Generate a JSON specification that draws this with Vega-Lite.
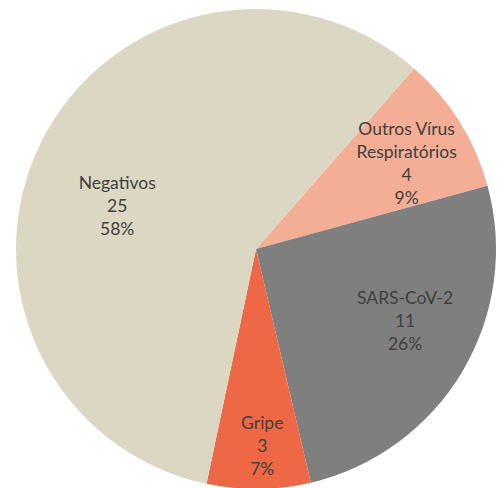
{
  "$schema": "https://vega.github.io/schema/vega-lite/v6.json",
  "width": 482,
  "height": 478,
  "padding": {"left": 15, "top": 10, "right": 0, "bottom": 0},
  "autosize": {"type": "none"},
  "background": "white",
  "view": {"stroke": null},
  "data": {
    "values": [
      {"cat": "Outros Vírus Respiratórios", "n": 4, "ord": 1},
      {"cat": "SARS-CoV-2", "n": 11, "ord": 2},
      {"cat": "Gripe", "n": 3, "ord": 3},
      {"cat": "Negativos", "n": 25, "ord": 4}
    ]
  },
  "transform": [
    {"joinaggregate": [{"op": "sum", "field": "n", "as": "total"}]},
    {"calculate": "datum.cat === 'Outros Vírus Respiratórios' ? ['Outros Vírus', 'Respiratórios', '' + datum.n, format(datum.n / datum.total, '.0%')] : [datum.cat, '' + datum.n, format(datum.n / datum.total, '.0%')]", "as": "label"}
  ],
  "encoding": {
    "theta": {"field": "n", "type": "quantitative", "stack": true, "scale": {"range": [0.7191, 7.0023]}},
    "order": {"field": "ord", "type": "quantitative"}
  },
  "layer": [
    {
      "mark": {"type": "arc", "radius": 240, "stroke": null},
      "encoding": {
        "color": {
          "field": "cat",
          "type": "nominal",
          "legend": null,
          "scale": {
            "domain": ["Outros Vírus Respiratórios", "SARS-CoV-2", "Gripe", "Negativos"],
            "range": ["#F5AE96", "#7F7F7F", "#EF6845", "#DCD7C3"]
          }
        }
      }
    },
    {
      "mark": {
        "type": "text",
        "font": "Lato",
        "fontSize": 17.5,
        "color": "#404040",
        "lineHeight": 23,
        "baseline": "middle",
        "radius": {"expr": "datum.cat === 'Gripe' ? 195 : datum.cat === 'Negativos' ? 145 : datum.cat === 'SARS-CoV-2' ? 163 : 173"},
        "thetaOffset": {"expr": "datum.cat === 'Negativos' ? -0.17 : 0"},
        "dx": {"expr": "datum.cat === 'SARS-CoV-2' ? 9 : datum.cat === 'Negativos' ? 0 : 4"},
        "dy": {"expr": "datum.cat === 'Outros Vírus Respiratórios' ? -27 : datum.cat === 'SARS-CoV-2' ? -33 : datum.cat === 'Gripe' ? -20 : -23"}
      },
      "encoding": {
        "text": {"field": "label"}
      }
    }
  ]
}
